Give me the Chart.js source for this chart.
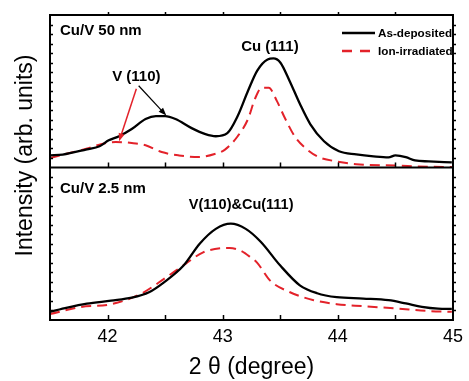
<!DOCTYPE html>
<html>
<head>
<meta charset="utf-8">
<script src="https://cdn.jsdelivr.net/npm/chart.js@4"></script>
<style>
  html, body { margin: 0; padding: 0; background: #fff; }
  #wrap { width: 469px; height: 381px; }
</style>
</head>
<body>
<div id="wrap"><canvas id="xrd"></canvas></div>
<script>
const FONT = 'Arial, "Liberation Sans", sans-serif';
const RED = '#e3222a';

const xTicks = [42, 43, 44, 45];
const xMinor = [42, 42.5, 43, 43.5, 44, 44.5];

// Cu/V 50 nm, as-deposited
const thetaTopAs = [41.50, 41.61, 41.82, 41.93, 42.01, 42.10, 42.21, 42.33, 42.42, 42.50, 42.59, 42.73, 42.85, 42.94,
  43.04, 43.13, 43.22, 43.30, 43.39, 43.44, 43.50, 43.58, 43.67, 43.76, 43.88, 44.01, 44.16, 44.31, 44.44, 44.50,
  44.59, 44.67, 44.79, 44.99];
const asDepTop = [1.27, 1.35, 1.91, 2.23, 2.85, 3.28, 4.03, 5.09, 5.40, 5.40, 5.09, 4.13, 3.50, 3.28,
  3.60, 5.40, 8.05, 10.17, 11.34, 11.44, 11.02, 9.11, 6.68, 4.56, 2.75, 1.70, 1.38, 1.17, 1.06, 1.27,
  1.09, 0.74, 0.64, 0.53];

// Cu/V 50 nm, ion-irradiated
const thetaTopIon = [41.50, 41.67, 41.84, 41.95, 42.07, 42.21, 42.33, 42.47, 42.62, 42.79, 42.93, 43.02, 43.13, 43.22,
  43.28, 43.34, 43.40, 43.47, 43.54, 43.63, 43.73, 43.84, 43.99, 44.16, 44.50, 44.79, 44.99];
const ionTop = [0.99, 1.52, 2.05, 2.47, 2.68, 2.57, 2.33, 1.62, 1.27, 1.09, 1.41, 1.88, 3.28, 5.09,
  7.21, 8.37, 8.37, 6.99, 5.19, 3.18, 1.91, 1.06, 0.64, 0.35, 0.21, 0.08, 0.05];

// Cu/V 2.5 nm, as-deposited
const thetaBotAs = [41.50, 41.65, 41.82, 42.03, 42.21, 42.36, 42.49, 42.66, 42.80, 42.94, 43.07, 43.20, 43.33, 43.50,
  43.67, 43.82, 43.99, 44.22, 44.44, 44.59, 44.73, 44.87, 44.99];
const asDepBot = [0.86, 1.30, 1.71, 2.03, 2.34, 2.91, 3.95, 5.71, 8.00, 9.56, 10.11, 9.56, 8.21, 5.71,
  3.64, 2.81, 2.39, 2.25, 2.08, 1.74, 1.38, 1.19, 1.16];

// Cu/V 2.5 nm, ion-irradiated
const thetaBotIon = [41.50, 41.76, 42.03, 42.29, 42.49, 42.68, 42.83, 42.98, 43.06, 43.15, 43.24, 43.30, 43.41, 43.58,
  43.79, 43.99, 44.22, 44.50, 44.79, 44.99];
const ionBot = [0.62, 1.35, 1.66, 2.75, 4.31, 5.92, 7.10, 7.52, 7.55, 7.30, 6.60, 6.00, 4.16, 2.94,
  2.08, 1.66, 1.45, 1.22, 0.94, 0.86];

const toXY = (xs, ys) => xs.map((x, i) => ({ x, y: ys[i] }));

const line = (label, xs, ys, axis, dashed) => ({
  label,
  data: toXY(xs, ys),
  yAxisID: axis,
  borderColor: dashed ? RED : '#000',
  borderWidth: dashed ? 2 : 2.3,
  borderDash: dashed ? [10, 6] : [],
  pointRadius: 0,
  cubicInterpolationMode: 'monotone',
  fill: false
});

function arrow(ctx, x1, y1, x2, y2, color, w) {
  const a = Math.atan2(y2 - y1, x2 - x1);
  const len = 8, hw = 3;
  ctx.save();
  ctx.strokeStyle = color;
  ctx.fillStyle = color;
  ctx.lineWidth = w;
  ctx.beginPath();
  ctx.moveTo(x1, y1);
  ctx.lineTo(x2 - Math.cos(a) * len * 0.8, y2 - Math.sin(a) * len * 0.8);
  ctx.stroke();
  ctx.beginPath();
  ctx.moveTo(x2, y2);
  ctx.lineTo(x2 - Math.cos(a) * len - Math.sin(a) * hw, y2 - Math.sin(a) * len + Math.cos(a) * hw);
  ctx.lineTo(x2 - Math.cos(a) * len + Math.sin(a) * hw, y2 - Math.sin(a) * len - Math.cos(a) * hw);
  ctx.closePath();
  ctx.fill();
  ctx.restore();
}

const decorations = {
  id: 'decorations',
  afterDraw(chart) {
    const { ctx, chartArea: area, scales } = chart;
    const { x, yTop, yBot } = scales;
    const mid = yTop.bottom;
    ctx.save();

    // frame and panel divider
    ctx.strokeStyle = '#000';
    ctx.lineWidth = 2;
    ctx.strokeRect(area.left, area.top, area.right - area.left, area.bottom - area.top);
    ctx.beginPath();
    ctx.moveTo(area.left, mid);
    ctx.lineTo(area.right, mid);
    ctx.stroke();

    // x ticks
    ctx.lineWidth = 1.5;
    ctx.beginPath();
    xMinor.forEach(v => {
      const px = Math.round(x.getPixelForValue(v)) + 0.5;
      ctx.moveTo(px, mid); ctx.lineTo(px, mid - 5);
      ctx.moveTo(px, area.bottom); ctx.lineTo(px, area.bottom - 5);
      ctx.moveTo(px, area.top); ctx.lineTo(px, area.top - 3);
    });
    // y ticks: inside on the left, outside on the right
    [yTop, yBot].forEach(s => {
      for (let v = 1; v < s.max; v++) {
        const py = Math.round(s.getPixelForValue(v)) + 0.5;
        ctx.moveTo(area.left, py); ctx.lineTo(area.left + 3, py);
        ctx.moveTo(area.right, py); ctx.lineTo(area.right + 3, py);
      }
    });
    ctx.stroke();

    // y title
    ctx.fillStyle = '#000';
    ctx.font = '23px ' + FONT;
    ctx.textAlign = 'center';
    ctx.textBaseline = 'alphabetic';
    ctx.save();
    ctx.translate(32, (area.top + area.bottom) / 2 - 12);
    ctx.rotate(-Math.PI / 2);
    ctx.fillText('Intensity (arb. units)', 0, 0);
    ctx.restore();

    // panel labels
    ctx.font = 'bold 15px ' + FONT;
    ctx.textBaseline = 'middle';
    ctx.textAlign = 'left';
    ctx.fillText('Cu/V 50 nm', area.left + 10, area.top + 16);
    ctx.fillText('Cu/V 2.5 nm', area.left + 10, mid + 21);
    ctx.textAlign = 'center';
    ctx.fillText('Cu (111)', x.getPixelForValue(43.41), yTop.getPixelForValue(12.7));
    ctx.fillText('V (110)', x.getPixelForValue(42.25), yTop.getPixelForValue(9.54));
    ctx.font = 'bold 14.5px ' + FONT;
    ctx.fillText('V(110)&Cu(111)', x.getPixelForValue(43.16), yBot.getPixelForValue(12.05));

    // arrows to V (110)
    arrow(ctx, x.getPixelForValue(42.27), yTop.getPixelForValue(8.58),
      x.getPixelForValue(42.51), yTop.getPixelForValue(5.45), '#000', 1.2);
    arrow(ctx, x.getPixelForValue(42.25), yTop.getPixelForValue(8.26),
      x.getPixelForValue(42.10), yTop.getPixelForValue(2.75), RED, 1.5);

    // legend
    const ds = chart.data.datasets;
    const lx = 342, lw = 33;
    [ds[0], ds[1]].forEach((d, i) => {
      const ly = 33 + i * 18;
      ctx.strokeStyle = d.borderColor;
      ctx.lineWidth = 2.3;
      ctx.setLineDash(d.borderDash.length ? [10, 8] : []);
      ctx.beginPath();
      ctx.moveTo(lx, ly); ctx.lineTo(lx + lw, ly);
      ctx.stroke();
      ctx.setLineDash([]);
      ctx.font = 'bold 11.7px ' + FONT;
      ctx.textAlign = 'left';
      ctx.fillText(d.label, lx + lw + 3, ly + 1);
    });
    ctx.restore();
  }
};

new Chart(document.getElementById('xrd'), {
  type: 'line',
  data: {
    datasets: [
      line('As-deposited', thetaTopAs, asDepTop, 'yTop', false),
      line('Ion-irradiated', thetaTopIon, ionTop, 'yTop', true),
      line('As-deposited', thetaBotAs, asDepBot, 'yBot', false),
      line('Ion-irradiated', thetaBotIon, ionBot, 'yBot', true)
    ]
  },
  options: {
    responsive: true,
    maintainAspectRatio: false,
    animation: false,
    layout: { padding: { left: 50, top: 15, right: 10, bottom: 0 } },
    plugins: { legend: { display: false }, tooltip: { enabled: false } },
    scales: {
      x: {
        type: 'linear',
        min: 41.5,
        max: 45,
        afterBuildTicks: s => { s.ticks = xTicks.map(v => ({ value: v })); },
        afterFit: s => { s.height = 61; },
        grid: { display: false, drawTicks: false },
        border: { display: false },
        ticks: { color: '#000', padding: 6, font: { family: FONT, size: 18 } },
        title: { display: true, text: '2 θ (degree)', color: '#000', padding: { top: 0, bottom: 0 }, font: { family: FONT, size: 23 } }
      },
      // left-stacked axes are placed in reverse order: the last one ends up on top
      yBot: {
        type: 'linear', position: 'left', stack: 'panels', stackWeight: 1,
        min: 0, max: 16,
        grid: { display: false, drawTicks: false },
        border: { display: false },
        ticks: { display: false }
      },
      yTop: {
        type: 'linear', position: 'left', stack: 'panels', stackWeight: 1,
        min: 0, max: 16,
        grid: { display: false, drawTicks: false },
        border: { display: false },
        ticks: { display: false }
      }
    }
  },
  plugins: [decorations]
});
</script>
</body>
</html>
